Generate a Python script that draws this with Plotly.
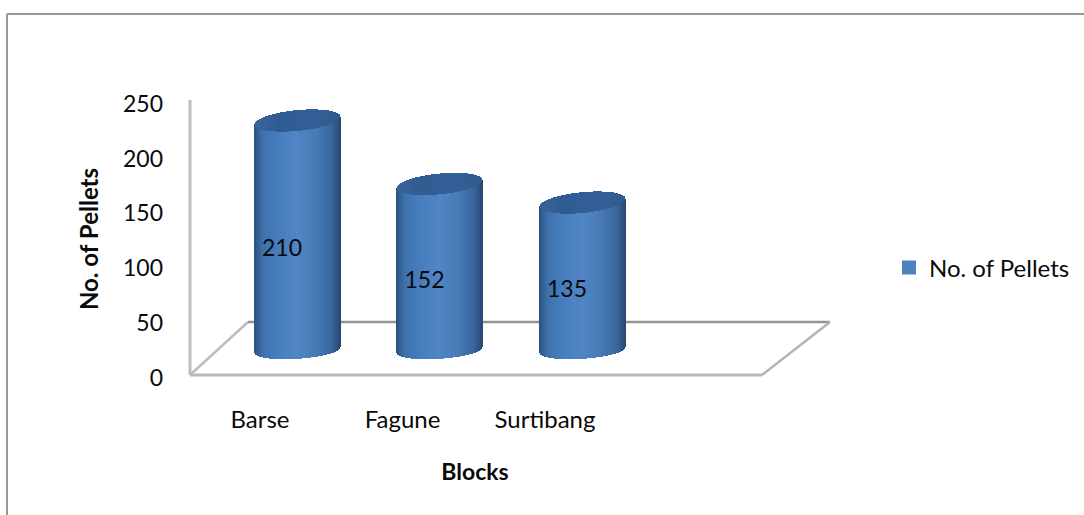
import numpy as np
import plotly.graph_objects as go

# Chart data
blocks = ["Barse", "Fagune", "Surtibang"]
pellets = [210, 152, 135]
y_ticks = [0, 50, 100, 150, 200, 250]
series_name = "No. of Pellets"

W, H = 1084, 515
FONT = "Lato"
FS = 24
FS_NUM = 23
INK = "#0A0A0A"

# Axis calibration in page pixels
X0_PX, X_STEP_PX = 260.0, 142.5       # category positions along the front edge
Y0_PX, Y_SCALE = 376.5, 1.094         # value 0 and pixels per unit
PLOT_RIGHT_PX, PLOT_BOTTOM_PX = 950.0, 478.0

# Cylinders stand deeper in the box than the front axis, so they are shifted
DEPTH_X = 37.0 / X_STEP_PX
DEPTH_Y = 24.0
RADIUS_X = 42.5 / X_STEP_PX
RADIUS_Y = 9.5
BOTTOM_RADIUS_Y = 7.8
TILT = 3.6
SLICES = 86

# Horizontal shading across a cylinder, from left rim to right rim
shade_pos = [0.00, 0.03, 0.10, 0.25, 0.50, 0.72, 0.90, 0.97, 1.00]
shade_rgb = [(44, 82, 128), (50, 92, 142), (62, 114, 174), (70, 124, 188),
             (80, 134, 198), (72, 122, 182), (58, 104, 160), (46, 86, 132), (40, 74, 114)]
cap_rgb = [(56, 100, 154), (48, 92, 146), (50, 96, 150), (48, 90, 142)]


def colour_at(t, stops, rgb):
    vals = [np.interp(t, stops, [c[i] for c in rgb]) for i in range(3)]
    return "rgb({:.0f},{:.0f},{:.0f})".format(*vals)


body_x, body_base, body_h, body_c = [], [], [], []
cap_x, cap_base, cap_h, cap_c = [], [], [], []
for i, v in enumerate(pellets):
    for t in np.linspace(0, 1, SLICES):
        u = 2 * t - 1
        s = np.sqrt(max(0.0, 1 - u * u))
        cx = i + DEPTH_X + u * RADIUS_X
        bottom = DEPTH_Y - BOTTOM_RADIUS_Y * s + 0.7 * TILT * u
        top_low = DEPTH_Y + v - RADIUS_Y * s + TILT * u
        top_high = DEPTH_Y + v + RADIUS_Y * s + TILT * u
        body_x.append(cx)
        body_base.append(bottom)
        body_h.append(top_low - bottom)
        body_c.append(colour_at(t, shade_pos, shade_rgb))
        cap_x.append(cx)
        cap_base.append(top_low)
        cap_h.append(top_high - top_low)
        cap_c.append(colour_at(t, [0, 0.3, 0.7, 1], cap_rgb))

slice_width = 2.0 / X_STEP_PX

fig = go.Figure()
fig.add_trace(go.Bar(x=body_x, y=body_h, base=body_base, width=slice_width,
                     marker=dict(color=body_c, line=dict(width=0)),
                     showlegend=False, hoverinfo="skip"))
fig.add_trace(go.Bar(x=cap_x, y=cap_h, base=cap_base, width=slice_width,
                     marker=dict(color=cap_c, line=dict(width=0)),
                     showlegend=False, hoverinfo="skip"))

# Value labels sit on the cylinders, slightly left of their axis
fig.add_trace(go.Scatter(
    x=[i + 22.0 / X_STEP_PX for i in range(len(blocks))],
    y=[v / 2 + 10.5 for v in pellets],
    text=[str(v) for v in pellets],
    mode="text", textposition="middle center",
    textfont=dict(family=FONT, size=FS_NUM, color=INK),
    showlegend=False, hoverinfo="skip"))

# Legend entry
fig.add_trace(go.Scatter(x=[None], y=[None], mode="markers", name=series_name,
                         marker=dict(symbol="square", size=14, color="#4F81BD")))


def line(x0, y0, x1, y1, color="#A6A6A6", width=2):
    return dict(type="line", xref="paper", yref="paper", layer="below",
                x0=x0 / W, x1=x1 / W, y0=1 - y0 / H, y1=1 - y1 / H,
                line=dict(color=color, width=width))


shapes = [
    line(7, 14, W, 14, "#979797", 2),          # outer frame
    line(7, 14, 7, H, "#979797", 2),
    line(190, 100, 190, 375, "#BDBDBD", 3),    # back wall edge
    line(190, 375, 762, 375, "#B8B8B8", 3),    # floor
    line(190, 375, 248, 322, "#BDBDBD", 2.5),
    line(248, 322, 830, 322, "#949494", 2.5),
    line(762, 375, 830, 322, "#B4B4B4", 2.5),
]

fig.update_layout(
    width=W, height=H,
    margin=dict(l=0, r=0, t=0, b=0),
    paper_bgcolor="white", plot_bgcolor="rgba(0,0,0,0)",
    barmode="overlay", bargap=0,
    font=dict(family=FONT, size=FS, color=INK),
    shapes=shapes,
    legend=dict(x=889 / W, y=1 - 268 / H, xanchor="left", yanchor="middle",
                bgcolor="rgba(0,0,0,0)", borderwidth=0, itemwidth=30,
                font=dict(family=FONT, size=FS, color=INK)),
    xaxis=dict(domain=[0, PLOT_RIGHT_PX / W],
               range=[-X0_PX / X_STEP_PX, (PLOT_RIGHT_PX - X0_PX) / X_STEP_PX],
               anchor="free", position=1 - 403 / H,
               tickmode="array", tickvals=list(range(len(blocks))), ticktext=blocks,
               tickfont=dict(family=FONT, size=FS, color=INK),
               showgrid=False, zeroline=False, showline=False, ticks="",
               title=dict(text="<b>Blocks</b>", standoff=31,
                          font=dict(family=FONT, size=FS_NUM, color=INK))),
    yaxis=dict(domain=[1 - PLOT_BOTTOM_PX / H, 1],
               range=[(Y0_PX - PLOT_BOTTOM_PX) / Y_SCALE, Y0_PX / Y_SCALE],
               anchor="free", position=163 / W,
               tickmode="array", tickvals=y_ticks, ticklabelshift=1,
               tickfont=dict(family=FONT, size=FS_NUM, color=INK),
               showgrid=False, zeroline=False, showline=False, ticks="",
               title=dict(text="<b>No. of Pellets</b>", standoff=16,
                          font=dict(family=FONT, size=FS, color=INK))),
)

fig.write_html("out.html", config=dict(displayModeBar=False))
